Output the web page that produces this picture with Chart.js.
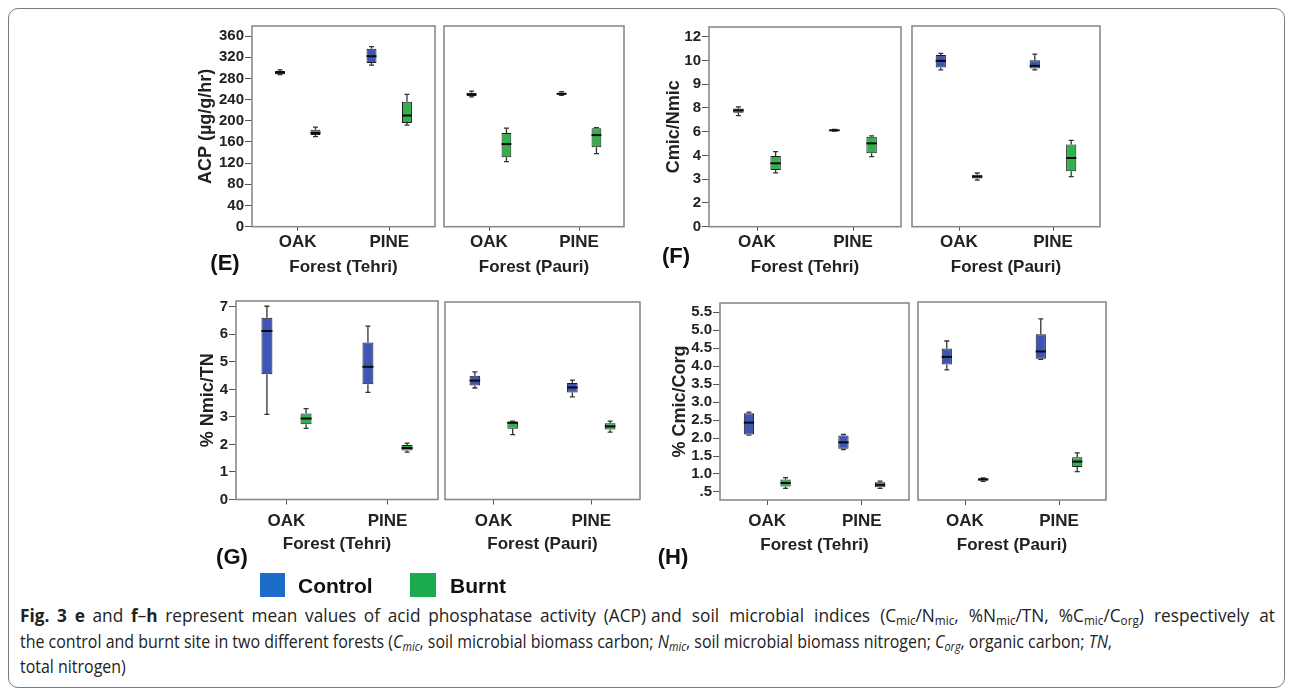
<!DOCTYPE html>
<html><head><meta charset="utf-8">
<script src="https://cdn.jsdelivr.net/npm/chart.js@4/dist/chart.umd.min.js"></script>
<style>
html,body{margin:0;padding:0;background:#fff;}
body{width:1292px;height:695px;position:relative;overflow:hidden;font-family:"Liberation Sans",Arial,sans-serif;}
.frame{position:absolute;left:8px;top:8px;width:1277px;height:680px;border:1.5px solid #7a7a7a;border-radius:10px;box-sizing:border-box;}
canvas{position:absolute;}
.lab{position:absolute;font-weight:bold;font-size:22px;color:#111;transform:translate(-50%,-50%);white-space:nowrap;}
.sw{position:absolute;width:25px;height:24px;}
.leg{position:absolute;font-weight:bold;font-size:21px;color:#111;transform:translateY(-50%);white-space:nowrap;}
.cap{position:absolute;font-family:"Open Sans","Noto Sans",sans-serif;font-size:17.5px;color:#222;white-space:nowrap;transform-origin:0 50%;}
.cap sub{font-size:0.68em;vertical-align:-0.25em;line-height:0;}
</style>
</head><body>
<div class="frame"></div>
<div id="charts"></div>
<div class="lab" style="left:225px;top:263px">(E)</div>
<div class="lab" style="left:676px;top:256px">(F)</div>
<div class="lab" style="left:232px;top:557px">(G)</div>
<div class="lab" style="left:673px;top:557px">(H)</div>
<div class="sw" style="left:260px;top:573px;background:#1c6dc9"></div>
<div class="leg" style="left:298px;top:586px">Control</div>
<div class="sw" style="left:410px;top:573px;background:#1baa4e;width:26px"></div>
<div class="leg" style="left:450px;top:586px">Burnt</div>
<div class="cap" id="cap1a" style="left:20px;top:603px" data-w="626"><b>Fig. 3 e</b> and <b>f</b>–<b>h</b> represent mean values of acid phosphatase activity (ACP)</div>
<div class="cap" id="cap1b" style="left:651px;top:603px" data-w="624">and soil microbial indices (C<sub>mic</sub>/N<sub>mic</sub>, %N<sub>mic</sub>/TN, %C<sub>mic</sub>/C<sub>org</sub>) respectively at</div>
<div class="cap" id="cap2" style="left:20px;top:629px">the control and burnt site in two different forests (<i>C<sub>mic</sub></i>, soil microbial biomass carbon; <i>N<sub>mic</sub></i>, soil microbial biomass nitrogen; <i>C<sub>org</sub></i>, organic carbon; <i>TN</i>,</div>
<div class="cap" id="cap3" style="left:20px;top:654px">total nitrogen)</div>
<script>
// ---------- DATA (each box: [min, q1, median, q3, max]) ----------
const FORESTS = ['OAK', 'PINE'];
const SITES = ['Control', 'Burnt'];

const ACP_TICKS = [0, 40, 80, 120, 160, 200, 240, 280, 320, 360];
const ACP_TEHRI_CONTROL = [[287, 288, 291, 294, 296], [305, 309, 322, 336, 340]];
const ACP_TEHRI_BURNT   = [[170, 173, 177, 183, 188], [192, 196, 210, 236, 250]];
const ACP_PAURI_CONTROL = [[245, 247, 250, 253, 256], [248, 249, 251, 253, 255]];
const ACP_PAURI_BURNT   = [[123, 131, 156, 177, 186], [138, 150, 173, 186, 187]];

const CN_TICK_LABELS = [0, 2, 3, 4, 6, 8, 9, 10, 12];
const CN_TEHRI_CONTROL = [[7.35, 7.6, 7.8, 7.95, 8.05], [6.05, 6.08, 6.12, 6.16, 6.2]];
const CN_TEHRI_BURNT   = [[3.27, 3.39, 3.67, 3.98, 4.32], [3.95, 4.18, 5.02, 5.58, 5.65]];
const CN_PAURI_CONTROL = [[9.57, 9.67, 9.95, 10.38, 10.52], [9.57, 9.63, 9.74, 9.98, 10.46]];
const CN_PAURI_BURNT   = [[2.95, 3.02, 3.1, 3.18, 3.25], [3.1, 3.32, 3.88, 4.88, 5.24]];

const NTN_TICKS = [0, 1, 2, 3, 4, 5, 6, 7];
const NTN_TEHRI_CONTROL = [[3.09, 4.55, 6.12, 6.6, 7.02], [3.89, 4.19, 4.82, 5.7, 6.3]];
const NTN_TEHRI_BURNT   = [[2.58, 2.73, 2.94, 3.12, 3.3], [1.72, 1.78, 1.87, 1.98, 2.05]];
const NTN_PAURI_CONTROL = [[4.07, 4.16, 4.34, 4.52, 4.66], [3.75, 3.91, 4.09, 4.25, 4.36]];
const NTN_PAURI_BURNT   = [[2.37, 2.58, 2.8, 2.85, 2.86], [2.46, 2.56, 2.67, 2.78, 2.86]];

const CC_TICKS = [0.5, 1.0, 1.5, 2.0, 2.5, 3.0, 3.5, 4.0, 4.5, 5.0, 5.5];
const CC_TEHRI_CONTROL = [[2.08, 2.1, 2.43, 2.69, 2.72], [1.68, 1.7, 1.88, 2.07, 2.1]];
const CC_TEHRI_BURNT   = [[0.6, 0.65, 0.75, 0.85, 0.9], [0.6, 0.63, 0.7, 0.77, 0.8]];
const CC_PAURI_CONTROL = [[3.88, 4.03, 4.24, 4.47, 4.68], [4.17, 4.19, 4.39, 4.87, 5.29]];
const CC_PAURI_BURNT   = [[0.79, 0.81, 0.85, 0.87, 0.89], [1.06, 1.19, 1.34, 1.46, 1.58]];

// ---------- STYLE / LAYOUT ----------
const CONTROL_FILL = '#3d56b6', BURNT_FILL = '#33b04c';
const FONT = '"Liberation Sans", Arial, sans-serif';

function piecewise(labels) {
  return v => {
    for (let i = 0; i < labels.length - 1; i++) {
      if (v <= labels[i + 1]) return i + (v - labels[i]) / (labels[i + 1] - labels[i]);
    }
    return labels.length - 1;
  };
}
const cnMap = piecewise(CN_TICK_LABELS);
const CN_POS = CN_TICK_LABELS.map((_, i) => i);
const ident = v => v;

const ROWS = [
  {Hx: 54, tl: 4, tpad: 1.5, titlePad: 3.5},
  {Hx: 60, tl: 5, tpad: 6.5, titlePad: 4.8}
];

const PANELS = [
  {plot: [252, 26, 435, 226.7], row: 0, yTitle: 'ACP (µg/g/hr)', titleX: 205.5, ticks: ACP_TICKS, fmt: v => String(v), min: 0, max: 379, map: ident, xTitle: 'Forest (Tehri)', control: ACP_TEHRI_CONTROL, burnt: ACP_TEHRI_BURNT},
  {plot: [440, 26, 624, 226.7], row: 0, ticks: ACP_TICKS, min: 0, max: 379, map: ident, xTitle: 'Forest (Pauri)', control: ACP_PAURI_CONTROL, burnt: ACP_PAURI_BURNT},
  {plot: [709, 27, 901, 226.7], row: 0, yTitle: 'Cmic/Nmic', titleX: 674, ticks: CN_POS, fmt: v => String(CN_TICK_LABELS[Math.round(v)]), min: 0, max: 8.41, map: cnMap, xTitle: 'Forest (Tehri)', control: CN_TEHRI_CONTROL, burnt: CN_TEHRI_BURNT},
  {plot: [908, 26, 1100, 226.7], row: 0, ticks: CN_POS, min: 0, max: 8.41, map: cnMap, xTitle: 'Forest (Pauri)', control: CN_PAURI_CONTROL, burnt: CN_PAURI_BURNT},
  {plot: [236, 301, 438, 499.5], row: 1, yTitle: '% Nmic/TN', titleX: 208, ticks: NTN_TICKS, fmt: v => String(v), min: 0, max: 7.21, map: ident, xTitle: 'Forest (Tehri)', control: NTN_TEHRI_CONTROL, burnt: NTN_TEHRI_BURNT},
  {plot: [441, 302, 640, 499.5], row: 1, ticks: NTN_TICKS, min: 0, max: 7.21, map: ident, xTitle: 'Forest (Pauri)', control: NTN_PAURI_CONTROL, burnt: NTN_PAURI_BURNT},
  {plot: [720, 303, 909, 500], row: 1, yTitle: '% Cmic/Corg', titleX: 680, ticks: CC_TICKS, fmt: v => (Math.abs(v - 0.5) < 1e-9 ? '.5' : v.toFixed(1)), min: 0.276, max: 5.76, map: ident, xTitle: 'Forest (Tehri)', control: CC_TEHRI_CONTROL, burnt: CC_TEHRI_BURNT},
  {plot: [914, 302, 1106, 500], row: 1, ticks: CC_TICKS, min: 0.276, max: 5.76, map: ident, xTitle: 'Forest (Pauri)', control: CC_PAURI_CONTROL, burnt: CC_PAURI_BURNT}
];

const boxPlugin = {
  id: 'boxplot',
  beforeDatasetsDraw(chart) {
    const ctx = chart.ctx, ys = chart.scales.y;
    ctx.save();
    ctx.strokeStyle = '#333'; ctx.lineWidth = 1.3;
    chart.data.datasets.forEach((ds, di) => {
      chart.getDatasetMeta(di).data.forEach((bar, i) => {
        const s = ds.stats[i], x = bar.x;
        const yMin = ys.getPixelForValue(s[0]), yQ1 = ys.getPixelForValue(s[1]);
        const yQ3 = ys.getPixelForValue(s[3]), yMax = ys.getPixelForValue(s[4]);
        ctx.beginPath();
        ctx.moveTo(x, yMax); ctx.lineTo(x, yQ3);
        ctx.moveTo(x, yQ1); ctx.lineTo(x, yMin);
        ctx.moveTo(x - 2.5, yMax); ctx.lineTo(x + 2.5, yMax);
        ctx.moveTo(x - 2.5, yMin); ctx.lineTo(x + 2.5, yMin);
        ctx.stroke();
      });
    });
    ctx.restore();
  },
  afterDatasetsDraw(chart) {
    const ctx = chart.ctx, ys = chart.scales.y;
    ctx.save();
    ctx.strokeStyle = '#0a0a0a'; ctx.lineWidth = 2;
    chart.data.datasets.forEach((ds, di) => {
      chart.getDatasetMeta(di).data.forEach((bar, i) => {
        const s = ds.stats[i], x = bar.x, hw = bar.width / 2;
        const yMed = ys.getPixelForValue(s[2]);
        ctx.beginPath(); ctx.moveTo(x - hw, yMed); ctx.lineTo(x + hw, yMed); ctx.stroke();
      });
    });
    ctx.restore();
  },
  afterDraw(chart) {
    const ctx = chart.ctx, a = chart.chartArea;
    ctx.save();
    ctx.strokeStyle = '#8a8a8a'; ctx.lineWidth = 1.6;
    ctx.strokeRect(a.left, a.top, a.right - a.left, a.bottom - a.top);
    ctx.restore();
  }
};

const host = document.getElementById('charts');
PANELS.forEach(p => {
  const [L, T, R, B] = p.plot;
  const row = ROWS[p.row];
  const hasY = !!p.yTitle;
  const cl = Math.round(hasY ? p.titleX - 14 : L - 4);
  const ct = Math.round(T - 4);
  const cw = Math.ceil(R + 4 - cl);
  const ch = Math.ceil(B + row.Hx + 3 - ct);
  const padTop = T - ct;
  const padRight = cw - (R - cl);
  const padBottom = ch - (B - ct) - row.Hx;
  const padLeft = hasY ? 0 : L - cl;
  const Wy = L - cl;
  const canvas = document.createElement('canvas');
  canvas.width = cw; canvas.height = ch;
  canvas.style.left = cl + 'px'; canvas.style.top = ct + 'px';
  canvas.style.width = cw + 'px'; canvas.style.height = ch + 'px';
  host.appendChild(canvas);

  const mk = (arr, label, fill) => ({
    label,
    data: arr.map(s => [p.map(s[1]), p.map(s[3])]),
    stats: arr.map(s => s.map(p.map)),
    backgroundColor: fill,
    borderColor: '#1b1b1b',
    borderWidth: 1,
    borderSkipped: false,
    categoryPercentage: 0.775,
    barPercentage: 0.28
  });

  new Chart(canvas, {
    type: 'bar',
    data: {labels: FORESTS, datasets: [mk(p.control, SITES[0], CONTROL_FILL), mk(p.burnt, SITES[1], BURNT_FILL)]},
    plugins: [boxPlugin],
    options: {
      responsive: false, animation: false, devicePixelRatio: 1, events: [],
      layout: {padding: {left: padLeft, top: padTop, right: padRight, bottom: padBottom}},
      plugins: {legend: {display: false}, tooltip: {enabled: false}},
      scales: {
        x: {
          type: 'category', offset: true,
          grid: {offset: false, drawOnChartArea: false, drawTicks: true, tickLength: row.tl, color: '#555'},
          border: {display: false},
          ticks: {padding: row.tpad, color: '#222', font: {family: FONT, size: 17, weight: 'bold'}, maxRotation: 0, autoSkip: false},
          title: {display: true, text: p.xTitle, color: '#222', font: {family: FONT, size: 17, weight: 'bold'}, padding: {top: 0, bottom: row.titlePad}},
          afterFit: s => { s.height = row.Hx; s.paddingLeft = 0; s.paddingRight = 0; s.paddingTop = 0; s.paddingBottom = 0; }
        },
        y: {
          type: 'linear', display: hasY, min: p.min, max: p.max,
          afterBuildTicks: s => { s.ticks = p.ticks.map(v => ({value: v})); },
          grid: {drawOnChartArea: false, drawTicks: true, tickLength: 7, color: '#555'},
          border: {display: false},
          ticks: {padding: 1, autoSkip: false, color: '#222', font: {family: FONT, size: 15, weight: 'bold'}, callback: v => (p.fmt ? p.fmt(v) : '')},
          title: {display: hasY, text: p.yTitle || '', color: '#222', font: {family: FONT, size: 18, weight: 'bold'}, padding: {top: 3.2, bottom: 0}},
          afterFit: s => { s.width = Wy; s.paddingLeft = 0; s.paddingRight = 0; s.paddingTop = 0; s.paddingBottom = 0; }
        }
      }
    }
  });
});

// caption: horizontal scale from line 2; line 1 slightly wider glyphs, rest of the gap in word spacing
(function () {
  const c2 = document.getElementById('cap2');
  const k = 1092 / c2.getBoundingClientRect().width;
  const k1 = k * 1.08;
  ['cap1a', 'cap1b'].forEach(id => {
    const el = document.getElementById(id);
    const w = el.getBoundingClientRect().width;
    const spaces = (el.textContent.match(/ /g) || []).length;
    el.style.wordSpacing = ((+el.dataset.w / k1 - w) / spaces) + 'px';
    el.style.transform = 'scaleX(' + k1 + ')';
  });
  ['cap2', 'cap3'].forEach(id => {
    document.getElementById(id).style.transform = 'scaleX(' + k + ')';
  });
})();
</script>
</body></html>
